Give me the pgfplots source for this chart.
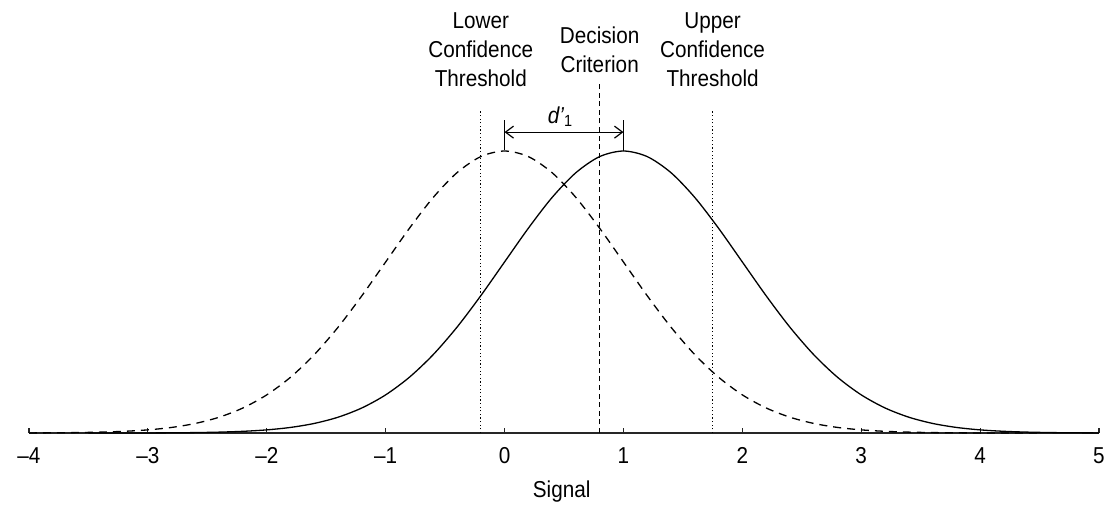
\documentclass[border=0pt]{standalone}
\usepackage{pgfplots}
\pgfplotsset{compat=1.18}
\usepackage{fontspec}
\setmainfont{Liberation Sans}[FakeStretch=0.9]
\usetikzlibrary{arrows.meta}
\newcommand\lbl{\fontsize{11.5}{14}\selectfont}
\begin{document}
\begin{tikzpicture}
\useasboundingbox (-14.5pt,-36pt) rectangle (539.5pt,216.5pt);
\begin{axis}[
  scale only axis, width=535pt, height=211.5pt,
  xmin=-4, xmax=5, ymin=0, ymax=1.5,
  axis x line=bottom, axis y line=none,
  x axis line style={-, line width=0.6pt, black!85},
  xtick={-4,-3,-2,-1,0,1,2,3,4,5},
  xticklabels={–4,–3,–2,–1,0,1,2,3,4,5},
  tick align=inside, xtick pos=left,
  major tick length=2.5pt,
  tick style={black!85, line width=0.6pt},
  ticklabel style={font=\lbl},
  xticklabel style={anchor=base, yshift=-15pt},
  clip=false,
  every axis plot/.append style={line width=0.65pt, black},
]
% noise distribution (dashed, mean 0)
\addplot[dashed, dash pattern=on 4pt off 3pt, smooth] coordinates {
(-4,0.0003) (-3.8,0.0007) (-3.6,0.0015) (-3.4,0.0031) (-3.2,0.0060) (-3.0,0.0111)
(-2.8,0.0198) (-2.6,0.0340) (-2.4,0.0561) (-2.2,0.0889) (-2.0,0.1353) (-1.8,0.1979)
(-1.6,0.2780) (-1.4,0.3753) (-1.2,0.4868) (-1.0,0.6065) (-0.8,0.7261) (-0.6,0.8353)
(-0.4,0.9231) (-0.2,0.9802) (0,1.0) (0.2,0.9802) (0.4,0.9231) (0.6,0.8353)
(0.8,0.7261) (1.0,0.6065) (1.2,0.4868) (1.4,0.3753) (1.6,0.2780) (1.8,0.1979)
(2.0,0.1353) (2.2,0.0889) (2.4,0.0561) (2.6,0.0340) (2.8,0.0198) (3.0,0.0111)
(3.2,0.0060) (3.4,0.0031) (3.6,0.0015) (3.8,0.0007) (4.0,0.0003) (4.5,0.00004)
};
% signal distribution (solid, mean 1)
\addplot[solid, smooth] coordinates {
(-3.5,0.00004) (-3,0.0003) (-2.8,0.0007) (-2.6,0.0015) (-2.4,0.0031) (-2.2,0.0060) (-2.0,0.0111)
(-1.8,0.0198) (-1.6,0.0340) (-1.4,0.0561) (-1.2,0.0889) (-1.0,0.1353) (-0.8,0.1979)
(-0.6,0.2780) (-0.4,0.3753) (-0.2,0.4868) (0.0,0.6065) (0.2,0.7261) (0.4,0.8353)
(0.6,0.9231) (0.8,0.9802) (1,1.0) (1.2,0.9802) (1.4,0.9231) (1.6,0.8353)
(1.8,0.7261) (2.0,0.6065) (2.2,0.4868) (2.4,0.3753) (2.6,0.2780) (2.8,0.1979)
(3.0,0.1353) (3.2,0.0889) (3.4,0.0561) (3.6,0.0340) (3.8,0.0198) (4.0,0.0111)
(4.2,0.0060) (4.4,0.0031) (4.6,0.0015) (4.8,0.0007) (5.0,0.0003)
};
% thresholds
\addplot[line width=0.6pt, dash pattern=on 0.6pt off 1.2pt] coordinates {(-0.2,0) (-0.2,1.145)};
\addplot[line width=0.6pt, dash pattern=on 2.5pt off 1.8pt] coordinates {(0.8,0) (0.8,1.241)};
\addplot[line width=0.6pt, dash pattern=on 0.6pt off 1.2pt] coordinates {(1.75,0) (1.75,1.145)};
% d' marker
\addplot[line width=0.6pt] coordinates {(0,1.003) (0,1.11)};
\addplot[line width=0.6pt] coordinates {(1,1.0) (1,1.11)};
\addplot[line width=0.6pt, {Straight Barb[length=4pt,width=6pt]}-{Straight Barb[length=4pt,width=6pt]}] coordinates {(0,1.067) (1,1.067)};
\node[font=\lbl, anchor=base west, inner sep=0pt] at (axis cs:0.36,1.099) {\textit{d’}\textsubscript{1}};
% labels
\node[font=\lbl, anchor=base] at (axis cs:-0.2,1.436) {Lower};
\node[font=\lbl, anchor=base] at (axis cs:-0.2,1.333) {Confidence};
\node[font=\lbl, anchor=base] at (axis cs:-0.2,1.230) {Threshold};
\node[font=\lbl, anchor=base] at (axis cs:0.8,1.383) {Decision};
\node[font=\lbl, anchor=base] at (axis cs:0.8,1.280) {Criterion};
\node[font=\lbl, anchor=base] at (axis cs:1.75,1.436) {Upper};
\node[font=\lbl, anchor=base] at (axis cs:1.75,1.333) {Confidence};
\node[font=\lbl, anchor=base] at (axis cs:1.75,1.230) {Threshold};
\node[font=\lbl, anchor=base] at (axis cs:0.48,-0.230) {Signal};
\end{axis}
\end{tikzpicture}
\end{document}
